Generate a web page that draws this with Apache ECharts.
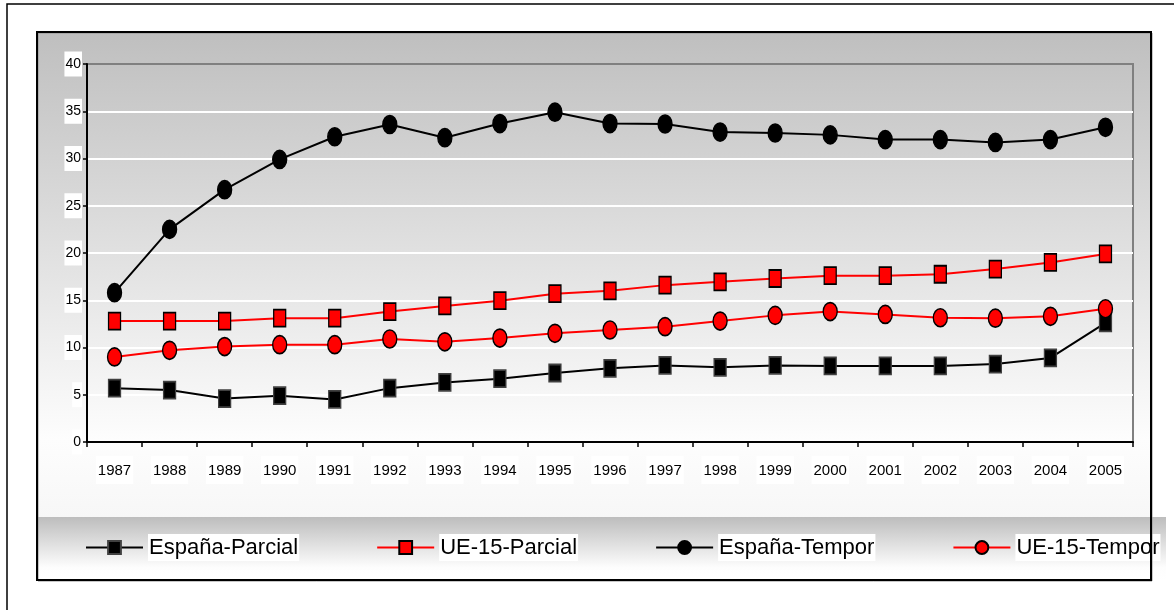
<!DOCTYPE html>
<html>
<head>
<meta charset="utf-8">
<script src="https://cdn.jsdelivr.net/npm/echarts@6/dist/echarts.min.js"></script>
<style>html,body{margin:0;padding:0;background:#fff;}#c{width:1174px;height:610px;}</style>
</head>
<body>
<div id="c"></div>
<script>
const years = ['1987','1988','1989','1990','1991','1992','1993','1994','1995','1996','1997','1998','1999','2000','2001','2002','2003','2004','2005'];
const espanaParcial = [5.7,5.5,4.6,4.9,4.5,5.7,6.3,6.7,7.3,7.8,8.1,7.9,8.1,8.05,8.05,8.05,8.25,8.9,12.6];
const ueParcial = [12.8,12.8,12.8,13.1,13.1,13.8,14.4,14.95,15.7,16.0,16.6,16.95,17.3,17.6,17.6,17.75,18.3,19.0,19.9];
const espanaTempor = [15.8,22.5,26.7,29.9,32.3,33.6,32.2,33.7,34.9,33.7,33.65,32.8,32.7,32.5,32.0,32.0,31.7,32.0,33.3];
const ueTempor = [9.0,9.7,10.1,10.3,10.3,10.9,10.6,11.0,11.5,11.85,12.2,12.8,13.4,13.8,13.5,13.15,13.1,13.3,14.1];
const seriesNames = ['España-Parcial','UE-15-Parcial','España-Tempor','UE-15-Tempor'];
const yTicks = {min: 0, max: 40, interval: 5};

const FONT = "'Liberation Sans',Arial,sans-serif";
const ELLIPSE = 'path://M50,0 A50,50 0 1 1 50,100 A50,50 0 1 1 50,0 Z';

function mk(name, data, color, symbol, size, border) {
  return {
    name: name, type: 'line', data: data,
    symbol: symbol, symbolSize: size,
    lineStyle: {color: color, width: 2},
    itemStyle: {color: color, borderColor: border, borderWidth: 1.5},
    emphasis: {disabled: true},
    animation: false
  };
}

const chart = echarts.init(document.getElementById('c'));
chart.setOption({
  backgroundColor: '#ffffff',
  animation: false,
  graphic: [
    {type: 'rect', z: -100, shape: {x: 7, y: 4, width: 1200, height: 700},
     style: {fill: 'none', stroke: '#000', lineWidth: 1.5}},
    {type: 'rect', z: -90, shape: {x: 38, y: 33, width: 1113, height: 484},
     style: {fill: new echarts.graphic.LinearGradient(0, 0, 0, 1, [
       {offset: 0, color: '#bfbfbf'}, {offset: 0.84, color: '#fdfdfd'}, {offset: 1, color: '#f7f7f7'}])}},
    {type: 'rect', z: -90, shape: {x: 38, y: 517, width: 1128, height: 63},
     style: {fill: new echarts.graphic.LinearGradient(0, 0, 0, 1, [
       {offset: 0, color: '#bdbdbd'}, {offset: 0.8, color: '#fdfdfd'}, {offset: 1, color: '#ffffff'}])}},
    {type: 'rect', z: 100, shape: {x: 38, y: 33, width: 1114, height: 548},
     style: {fill: 'none', stroke: '#909090', lineWidth: 1}},
    {type: 'rect', z: 101, shape: {x: 37, y: 32, width: 1114, height: 548},
     style: {fill: 'none', stroke: '#000', lineWidth: 2}}
  ],
  grid: {left: 87, top: 64, right: 41, bottom: 168, show: true, borderColor: '#808080', borderWidth: 2, backgroundColor: 'transparent'},
  xAxis: {
    type: 'category', data: years, boundaryGap: true,
    axisLine: {lineStyle: {color: '#000', width: 2}},
    axisTick: {show: true, length: 5, lineStyle: {color: '#000', width: 1.5}},
    axisLabel: {color: '#000', fontFamily: FONT, fontSize: 15, margin: 14, backgroundColor: '#fff', padding: [7, 2, 6, 2], interval: 0},
    splitLine: {show: false}
  },
  yAxis: {
    type: 'value', min: yTicks.min, max: yTicks.max, interval: yTicks.interval,
    axisLine: {show: true, lineStyle: {color: '#000', width: 2}},
    axisTick: {show: true, length: 4, lineStyle: {color: '#000', width: 1.5}},
    axisLabel: {color: '#000', fontFamily: FONT, fontSize: 14, margin: 5, backgroundColor: '#fff', padding: [6, 1, 5, 1]},
    splitLine: {show: true, lineStyle: {color: ['#fff','#fff','#fff','#fff','#fff','#fff','#fff','#fff','#808080'], width: 2}}
  },
  legend: {
    data: seriesNames, left: 85, top: 534, width: 1089, padding: 0, itemGap: 77, itemWidth: 57, itemHeight: 16,
    textStyle: {color: '#000', fontFamily: FONT, fontSize: 22, backgroundColor: '#fff', padding: [3, 1, 2, 1]},
    selectedMode: false, z: 50
  },
  series: [
    mk(seriesNames[0], espanaParcial, '#000000', 'rect', [12, 17], '#404040'),
    mk(seriesNames[1], ueParcial, '#ff0000', 'rect', [12, 17], '#000000'),
    mk(seriesNames[2], espanaTempor, '#000000', ELLIPSE, [14, 18], '#000000'),
    mk(seriesNames[3], ueTempor, '#ff0000', ELLIPSE, [14, 18], '#000000')
  ]
});
</script>
</body>
</html>
